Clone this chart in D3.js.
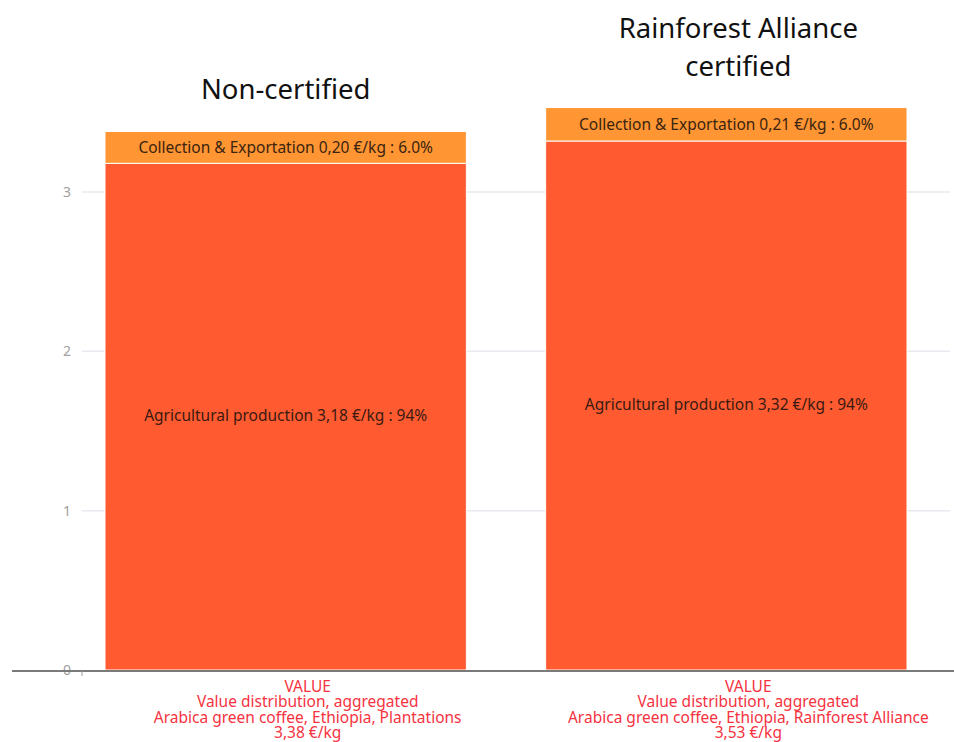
<!DOCTYPE html>
<html>
<head>
<meta charset="utf-8">
<script src="https://cdn.jsdelivr.net/npm/d3@7"></script>
<style>
  body { margin: 0; background: #fff; }
  text { font-family: "Noto Sans", "Open Sans", sans-serif; }
</style>
</head>
<body>
<div id="chart"></div>
<script>
// data
var categories = ["Non-certified", "Rainforest Alliance certified"];
var titles = [["Non-certified"], ["Rainforest Alliance", "certified"]];
var agricultural = [3.18, 3.32];
var collection = [0.20, 0.21];
var agriLabels = ["Agricultural production 3,18 €/kg : 94%", "Agricultural production 3,32 €/kg : 94%"];
var collLabels = ["Collection & Exportation 0,20 €/kg : 6.0%", "Collection & Exportation 0,21 €/kg : 6.0%"];
var axisLabels = [
  ["VALUE", "Value distribution, aggregated", "Arabica green coffee, Ethiopia, Plantations", "3,38 €/kg"],
  ["VALUE", "Value distribution, aggregated", "Arabica green coffee, Ethiopia, Rainforest Alliance", "3,53 €/kg"]
];
var yTicks = [0, 1, 2, 3];

var width = 954;
var height = 742;
var svg = d3.select("#chart").append("svg").attr("width", width).attr("height", height);

var x = d3.scaleBand().domain(categories).range([105, 907]).paddingInner(0.18).paddingOuter(0);
var y = d3.scaleLinear().domain([0, 3]).range([670, 192]);

// gridlines
svg.append("g").selectAll("line").data(yTicks.filter(function(d) { return d > 0; }))
  .enter().append("line")
  .attr("x1", 82).attr("x2", 950)
  .attr("y1", function(d) { return y(d); }).attr("y2", function(d) { return y(d); })
  .style("stroke", "#e8eaf0").style("stroke-width", 1.5);

// tick labels
svg.append("g").selectAll("text").data(yTicks)
  .enter().append("text")
  .attr("x", 67).attr("y", function(d) { return y(d); })
  .attr("dy", "0.35em").attr("text-anchor", "middle")
  .style("font-size", "14px").style("fill", "#a0a0a0")
  .text(function(d) { return d; });

// bars
var groups = svg.append("g").selectAll("g").data(categories).enter().append("g");

groups.append("rect")
  .attr("x", function(d) { return x(d); })
  .attr("width", x.bandwidth())
  .attr("y", function(d, i) { return y(agricultural[i]); })
  .attr("height", function(d, i) { return y(0) - y(agricultural[i]); })
  .style("fill", "#ff5a30").style("stroke", "#fff").style("stroke-width", 1);

groups.append("rect")
  .attr("x", function(d) { return x(d); })
  .attr("width", x.bandwidth())
  .attr("y", function(d, i) { return y(agricultural[i] + collection[i]); })
  .attr("height", function(d, i) { return y(agricultural[i]) - y(agricultural[i] + collection[i]); })
  .style("fill", "#ff9533").style("stroke", "#fff").style("stroke-width", 1);

groups.append("text")
  .attr("x", function(d) { return x(d) + x.bandwidth() / 2; })
  .attr("y", function(d, i) { return y(agricultural[i] / 2) - 1; })
  .attr("dy", "0.35em").attr("text-anchor", "middle")
  .style("font-size", "15.5px").style("fill", "#3a1a10")
  .text(function(d, i) { return agriLabels[i]; });

groups.append("text")
  .attr("x", function(d) { return x(d) + x.bandwidth() / 2; })
  .attr("y", function(d, i) { return y(agricultural[i] + collection[i] / 2); })
  .attr("dy", "0.35em").attr("text-anchor", "middle")
  .style("font-size", "15.5px").style("fill", "#3a2410")
  .text(function(d, i) { return collLabels[i]; });

// titles above bars
groups.each(function(d, i) {
  var g = d3.select(this);
  var top = y(agricultural[i] + collection[i]);
  var lines = titles[i];
  var shift = i === 1 ? 12 : 0;
  lines.forEach(function(t, k) {
    g.append("text")
      .attr("x", x(d) + x.bandwidth() / 2 + shift)
      .attr("y", top - 32 - (lines.length - 1 - k) * 38)
      .attr("text-anchor", "middle")
      .style("font-size", "27.5px").style("fill", "#111")
      .text(t);
  });
});

// baseline
svg.append("line")
  .attr("x1", 12).attr("x2", 954).attr("y1", y(0) + 1).attr("y2", y(0) + 1)
  .style("stroke", "#7a7a7a").style("stroke-width", 2);
svg.append("line")
  .attr("x1", 82).attr("x2", 82).attr("y1", y(0) + 1).attr("y2", y(0) + 6)
  .style("stroke", "#999").style("stroke-width", 1);

// category labels, one text block per bar
groups.each(function(d, i) {
  var cx = x(d) + x.bandwidth() / 2 + 22;
  var label = d3.select(this).append("text")
    .attr("x", cx).attr("y", 692)
    .attr("text-anchor", "middle")
    .style("font-size", "15.5px").style("fill", "#f5333f");
  label.selectAll("tspan").data(axisLabels[i]).enter().append("tspan")
    .attr("x", cx)
    .attr("dy", function(t, k) { return k === 0 ? 0 : 15.3; })
    .text(function(t) { return t; });
});
</script>
</body>
</html>
